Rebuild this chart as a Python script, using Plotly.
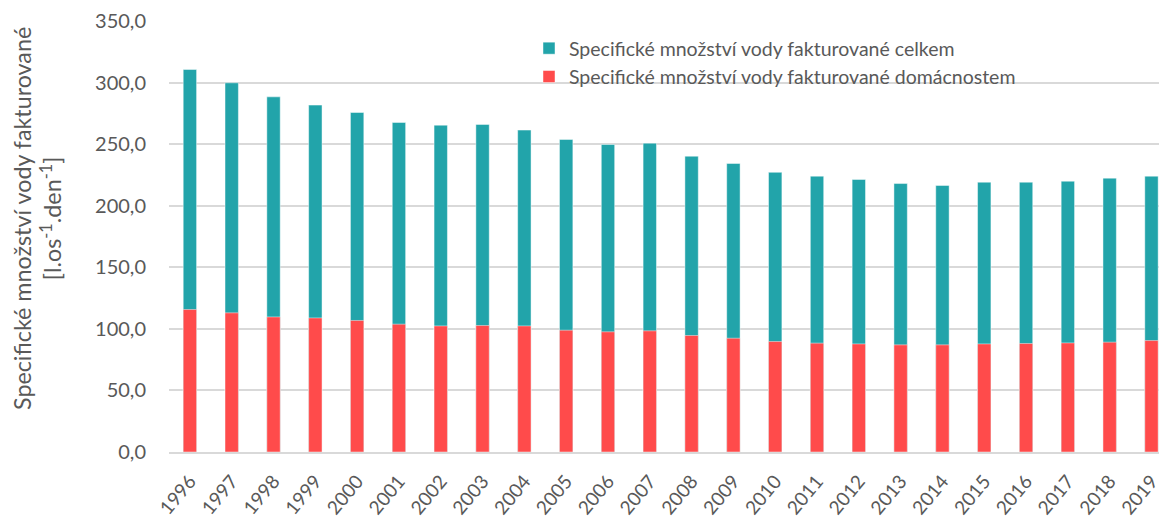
import plotly.graph_objects as go

years = [str(y) for y in range(1996, 2020)]
total = [310.6, 299.8, 288.4, 281.7, 275.7, 267.6, 265.4, 266.0, 261.4, 253.8, 249.7, 250.8,
         240.2, 234.3, 227.1, 224.0, 221.3, 218.0, 216.4, 219.1, 219.1, 219.9, 222.4, 224.0]
household = [115.7, 113.0, 109.7, 108.9, 106.8, 103.8, 102.4, 102.7, 102.4, 98.9, 97.6, 98.4,
             94.6, 92.4, 89.7, 88.4, 87.8, 87.0, 87.0, 87.8, 88.1, 88.6, 89.2, 90.5]
y_ticks = [0, 50, 100, 150, 200, 250, 300, 350]

name_total = "Specifické množství vody fakturované celkem"
name_house = "Specifické množství vody fakturované domácnostem"

FONT = "Lato"
GRAY = "#595959"

fig = go.Figure()
fig.add_trace(go.Bar(x=years, y=total, name=name_total, legendgroup="a",
                     marker=dict(color="#22A4AA", line=dict(color="rgba(255,255,255,0.45)", width=1))))
fig.add_trace(go.Bar(x=years, y=household, name=name_house, legendgroup="b",
                     marker=dict(color="#FF4B4B", line=dict(color="rgba(255,255,255,0.45)", width=1))))

L, R, T, B = 169, 0, 21, 68
W, H = 1159, 520
plot_w = W - L - R
plot_h = H - T - B

fig.update_layout(
    width=W, height=H,
    margin=dict(l=L, r=R, t=T, b=B, pad=0, autoexpand=False),
    paper_bgcolor="white", plot_bgcolor="white",
    barmode="overlay", bargap=0.68,
    separators=", ",
    font=dict(family=FONT, color=GRAY, size=19),
    showlegend=True,
    legend=dict(x=(529 - L) / plot_w, y=1 - (29 - T) / plot_h, xanchor="left", yanchor="top",
                font=dict(size=19.5, color=GRAY), bgcolor="rgba(0,0,0,0)",
                traceorder="normal", tracegroupgap=6, itemwidth=30),
    xaxis=dict(type="category", range=[-0.5, 23.18], tickangle=-50, automargin=False,
               showgrid=False, showline=True, linecolor="#D9D9D9", linewidth=1.5,
               ticks="", tickfont=dict(size=19, color=GRAY), ticklabelstandoff=9),
    yaxis=dict(range=[0, 350], tickvals=y_ticks, tickformat=".1f", automargin=False,
               showgrid=True, gridcolor="#D9D9D9", gridwidth=1.5,
               zeroline=False, showline=False, ticks="",
               tickfont=dict(size=20, color=GRAY), ticklabelstandoff=22),
)

fig.add_annotation(
    xref="paper", yref="paper",
    x=(37 - L) / plot_w, y=(H - B - 219) / plot_h,
    xanchor="center", yanchor="middle", textangle=-90, showarrow=False,
    text="Specifické množství vody fakturované<br>[l.os<sup>-1</sup>.den<sup>-1</sup>]",
    font=dict(size=23.3, color=GRAY, family=FONT),
)

fig.write_html(
    "out.html",
    config={"displayModeBar": False},
    post_script="document.body.style.margin='0';document.body.style.overflow='hidden';",
)
